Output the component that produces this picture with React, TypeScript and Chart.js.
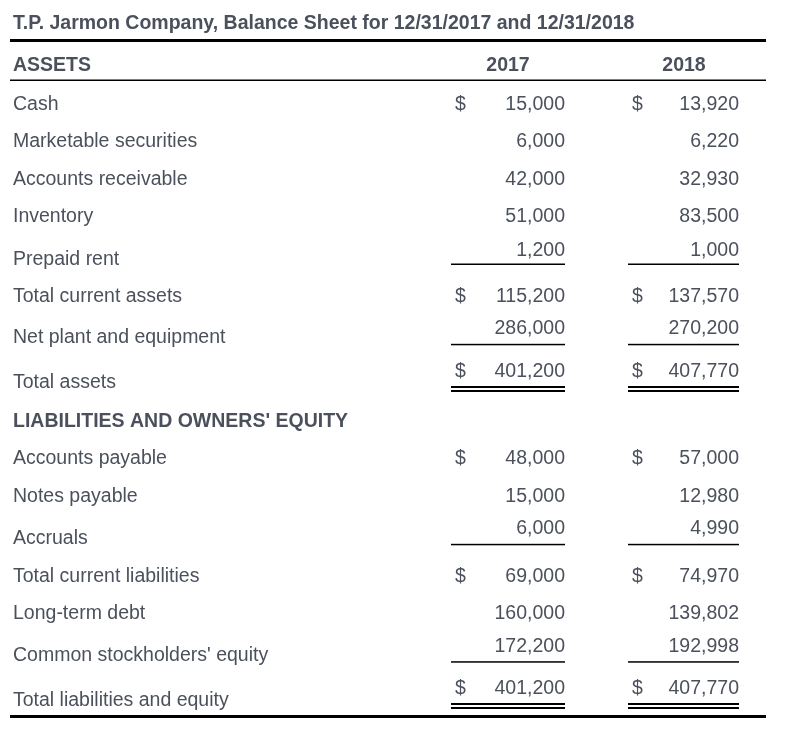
import React, { useEffect, useRef } from "react";
import { Chart, registerables } from "chart.js";

Chart.register(...registerables);

// ---------- data ----------
const title = "T.P. Jarmon Company, Balance Sheet for 12/31/2017 and 12/31/2018";
const years = ["2017", "2018"];
const assetsHeading = "ASSETS";
const liabHeading = "LIABILITIES AND OWNERS' EQUITY";

const assetLabels = [
  "Cash",
  "Marketable securities",
  "Accounts receivable",
  "Inventory",
  "Prepaid rent",
  "Total current assets",
  "Net plant and equipment",
  "Total assets",
];
const assets2017 = [15000, 6000, 42000, 51000, 1200, 115200, 286000, 401200];
const assets2018 = [13920, 6220, 32930, 83500, 1000, 137570, 270200, 407770];
const assetDollarRows = [0, 5, 7];
const assetRules = ["", "", "", "", "single", "", "single", "double"];

const liabLabels = [
  "Accounts payable",
  "Notes payable",
  "Accruals",
  "Total current liabilities",
  "Long-term debt",
  "Common stockholders' equity",
  "Total liabilities and equity",
];
const liab2017 = [48000, 15000, 6000, 69000, 160000, 172200, 401200];
const liab2018 = [57000, 12980, 4990, 74970, 139802, 192998, 407770];
const liabDollarRows = [0, 3, 6];
const liabRules = ["", "", "single", "", "", "single", "double"];

// ---------- layout (scale units = px) ----------
const W = 791;
const H = 750;
const assetValueY = [103, 140, 178, 215, 249, 295, 327, 370];
const assetLabelY = [103, 140, 178, 215, 258, 295, 336, 381];
const liabValueY = [457, 495, 527, 575, 612, 645, 687];
const liabLabelY = [457, 495, 537, 575, 612, 654, 699];
const assetRuleY = [0, 0, 0, 0, 263.5, 0, 343.8, 386];
const liabRuleY = [0, 0, 543.8, 0, 0, 661.2, 703];
const COL_RIGHT = [565, 739];
const COL_DOLLAR = [455, 632];
const COL_LEFT = [451, 628];
const COL_HEAD = [508, 684];
const LABEL_X = 13;
const TABLE_L = 10;
const TABLE_R = 766;
const TEXT = "#4b515c";
const FONT = "'Liberation Sans', Arial, Helvetica, sans-serif";
const FS = 19.5;

type Row = {
  label: string;
  v: number[];
  dollar: boolean;
  rule: string;
  valueY: number;
  labelY: number;
  ruleY: number;
};

const rows: Row[] = [
  ...assetLabels.map((label, i) => ({
    label,
    v: [assets2017[i], assets2018[i]],
    dollar: assetDollarRows.includes(i),
    rule: assetRules[i],
    valueY: assetValueY[i],
    labelY: assetLabelY[i],
    ruleY: assetRuleY[i],
  })),
  ...liabLabels.map((label, i) => ({
    label,
    v: [liab2017[i], liab2018[i]],
    dollar: liabDollarRows.includes(i),
    rule: liabRules[i],
    valueY: liabValueY[i],
    labelY: liabLabelY[i],
    ruleY: liabRuleY[i],
  })),
];

const fmt = (n: number) => n.toLocaleString("en-US");
const CAP = 7; // baseline offset from visual centre

const tablePlugin = {
  id: "balanceTable",
  afterDatasetsDraw(chart: any) {
    const ctx: CanvasRenderingContext2D = chart.ctx;
    const xs = chart.scales.x;
    const ys = chart.scales.y;
    const X = (v: number) => xs.getPixelForValue(v);
    const Y = (v: number) => ys.getPixelForValue(v);
    ctx.save();
    ctx.textBaseline = "alphabetic";

    // title
    ctx.fillStyle = TEXT;
    ctx.font = `bold ${FS}px ${FONT}`;
    ctx.textAlign = "left";
    ctx.fillText(title, X(LABEL_X), Y(22 + CAP));

    // headings
    ctx.fillText(assetsHeading, X(LABEL_X), Y(64 + CAP));
    ctx.fillText(liabHeading, X(LABEL_X), Y(420 + CAP));
    ctx.textAlign = "center";
    years.forEach((yr, c) => ctx.fillText(yr, X(COL_HEAD[c]), Y(64 + CAP)));

    // table rules
    ctx.fillStyle = "#000";
    const hline = (x0: number, x1: number, y: number, t: number) =>
      ctx.fillRect(X(x0), Y(y), X(x1) - X(x0), t);
    hline(TABLE_L, TABLE_R, 39, 3);
    hline(TABLE_L, TABLE_R, 79.5, 1.5);
    hline(TABLE_L, TABLE_R, 715, 3);

    // rows
    ctx.font = `${FS}px ${FONT}`;
    rows.forEach((r, i) => {
      ctx.fillStyle = TEXT;
      ctx.textAlign = "left";
      ctx.fillText(r.label, X(LABEL_X), Y(r.labelY + CAP));
      for (let c = 0; c < 2; c++) {
        const meta = chart.getDatasetMeta(c);
        const pt = meta.data[i];
        ctx.fillStyle = TEXT;
        ctx.textAlign = "right";
        ctx.fillText(fmt(r.v[c]), pt.x, pt.y + CAP);
        if (r.dollar) {
          ctx.textAlign = "left";
          ctx.fillText("$", X(COL_DOLLAR[c]), pt.y + CAP);
        }
        ctx.fillStyle = "#000";
        if (r.rule === "single") {
          hline(COL_LEFT[c], COL_RIGHT[c], r.ruleY, 1.5);
        } else if (r.rule === "double") {
          hline(COL_LEFT[c], COL_RIGHT[c], r.ruleY, 2);
          hline(COL_LEFT[c], COL_RIGHT[c], r.ruleY + 4, 2);
        }
      }
    });
    ctx.restore();
  },
};

export default function App() {
  const ref = useRef<HTMLCanvasElement | null>(null);

  useEffect(() => {
    document.body.style.margin = "0";
    document.body.style.background = "#fff";
    if (!ref.current) return;
    const chart = new Chart(ref.current, {
      type: "scatter",
      data: {
        datasets: years.map((yr, c) => ({
          label: yr,
          data: rows.map((r) => ({ x: COL_RIGHT[c], y: r.valueY, v: r.v[c] })),
          pointRadius: 0,
          pointHoverRadius: 0,
          showLine: false,
        })) as any,
      },
      options: {
        animation: false,
        responsive: false,
        devicePixelRatio: 1,
        layout: { padding: 0 },
        events: [],
        plugins: { legend: { display: false }, tooltip: { enabled: false } },
        scales: {
          x: { type: "linear", min: 0, max: W, display: false },
          y: { type: "linear", min: 0, max: H, reverse: true, display: false },
        },
      },
      plugins: [tablePlugin],
    });
    return () => chart.destroy();
  }, []);

  return (
    <div style={{ width: W, height: H, background: "#fff" }}>
      <canvas ref={ref} width={W} height={H} style={{ display: "block" }} />
    </div>
  );
}
